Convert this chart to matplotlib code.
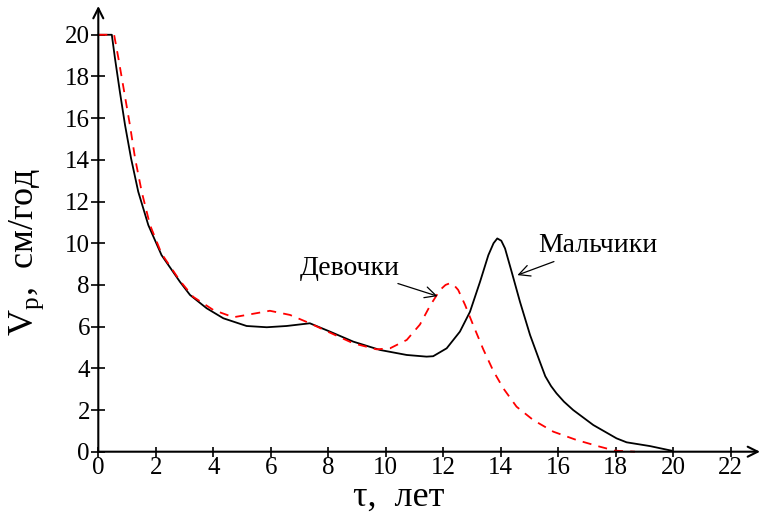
import numpy as np
from matplotlib import pyplot as plt

plt.rcParams['font.family'] = ['Liberation Serif', 'DejaVu Serif']
plt.rcParams['mathtext.fontset'] = 'custom'
plt.rcParams['mathtext.rm'] = 'Liberation Serif'

# мальчики
tau_m = [0, 0.47, 0.58, 0.75, 0.93, 1.14, 1.39, 1.74, 2.2, 2.84, 3.19, 3.77, 4.35, 5.16,
         5.86, 6.55, 7.36, 8.06, 8.87, 9.8, 10.73, 11.42, 11.65, 12.12, 12.58, 12.93,
         13.28, 13.57, 13.75, 13.88, 14.02, 14.15, 14.38, 14.67, 15.02, 15.36, 15.55,
         15.75, 15.94, 16.2, 16.52, 17.22, 18.03, 18.38, 19.19, 19.94]
v_m = [20, 20, 18.87, 17.27, 15.67, 14.07, 12.47, 10.87, 9.43, 8.15, 7.52, 6.88, 6.40,
       6.03, 5.97, 6.03, 6.16, 5.76, 5.28, 4.88, 4.64, 4.56, 4.58, 4.96, 5.76, 6.71,
       8.15, 9.43, 10.0, 10.23, 10.12, 9.75, 8.63, 7.19, 5.6, 4.32, 3.62,
       3.15, 2.8, 2.4, 2.0, 1.28, 0.64, 0.45, 0.27, 0.05]

# девочки
tau_d = [0, 0.55, 0.70, 0.90, 1.10, 1.28, 1.51, 1.80, 2.2, 2.84, 3.3, 4.0, 4.7, 5.16,
         5.97, 6.67, 7.36, 8.06, 8.87, 9.68, 10.15, 10.73, 11.19, 11.54, 11.89, 12.08,
         12.23, 12.38, 12.52, 12.76, 13.04, 13.39, 13.74, 14.09, 14.55, 15.13, 15.83,
         16.64, 17.45, 17.97, 18.67]
v_d = [20, 20, 18.87, 17.27, 15.67, 14.07, 12.47, 10.87, 9.5, 8.2, 7.43, 6.80, 6.45,
       6.56, 6.76, 6.56, 6.16, 5.71, 5.2, 4.91, 4.96, 5.36, 6.1, 7.0, 7.76, 8.0,
       8.08, 7.98, 7.76, 7.04, 6.08, 4.92, 3.88, 3.04, 2.16, 1.52, 0.96,
       0.56, 0.24, 0.05, 0.0]

xticks = np.arange(0, 23, 2)
yticks = np.arange(0, 21, 2)

fig = plt.figure(figsize=(7.6, 5.15), dpi=100)
ax = fig.add_axes([98.3 / 760, 1 - 451.7 / 515, 1 - 98.3 / 760, 445.7 / 515])
ax.set_xlim(0, 23.02)
ax.set_ylim(0, 21.38)
for s in ax.spines.values():
    s.set_visible(False)

ax.annotate('', xy=(23.02, 0), xytext=(0, 0), annotation_clip=False,
            arrowprops=dict(arrowstyle='->', lw=1.5, color='black', shrinkA=0, shrinkB=0,
                            mutation_scale=18))
ax.annotate('', xy=(0, 21.38), xytext=(0, 0), annotation_clip=False,
            arrowprops=dict(arrowstyle='->', lw=1.5, color='black', shrinkA=0, shrinkB=0,
                            mutation_scale=18))

ax.plot(tau_m, v_m, color='black', lw=1.3, clip_on=False, solid_joinstyle='round')
ax.plot(tau_d, v_d, color='red', lw=1.3, dashes=(5, 4), clip_on=False)

ax.set_xticks(xticks)
ax.set_yticks(yticks)
ax.tick_params(axis='x', direction='inout', length=7, width=1.2, labelsize=18, pad=0)
ax.tick_params(axis='y', direction='inout', length=10, width=1.2, labelsize=18, pad=1)

ax.annotate('Мальчики', xy=(14.58, 8.47), xytext=(15.3, 9.9), fontsize=20,
            ha='left', va='center',
            arrowprops=dict(arrowstyle='->', lw=0.9, color='black', shrinkA=2, shrinkB=0))
ax.annotate('Девочки', xy=(11.8, 7.46), xytext=(10.5, 8.8), fontsize=20,
            ha='right', va='center',
            arrowprops=dict(arrowstyle='->', lw=0.9, color='black', shrinkA=0, shrinkB=0))

fig.text(399 / 760, 1 - 497 / 515, 'τ,  лет', fontsize=26, ha='center', va='center')
fig.text(27 / 760, 1 - 252 / 515, r'V$_\mathrm{р}$,  см/год', fontsize=26, rotation=90,
         ha='center', va='center')

plt.savefig('out.png', dpi=100)
